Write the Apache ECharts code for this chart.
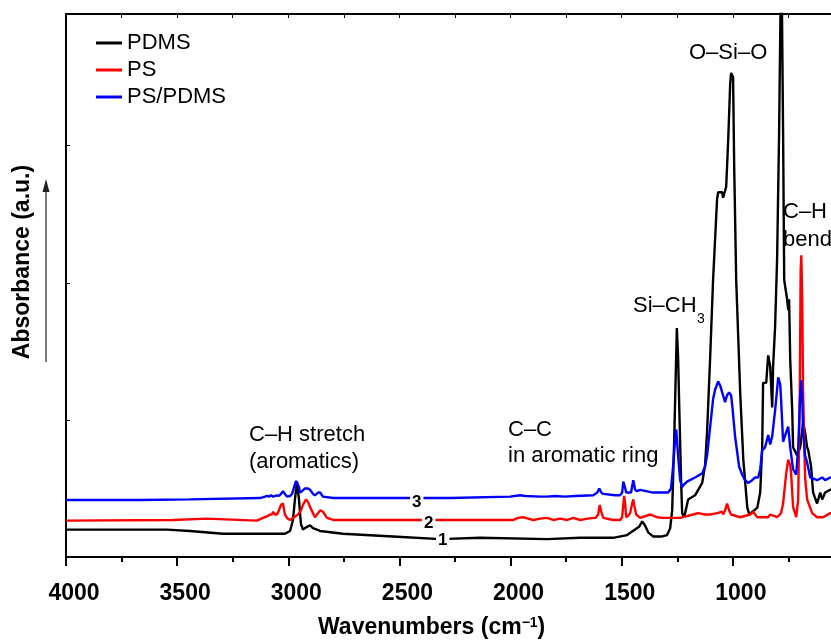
<!DOCTYPE html>
<html>
<head>
<meta charset="utf-8">
<script src="https://cdn.jsdelivr.net/npm/echarts@6/dist/echarts.min.js"></script>
<style>
  html, body { margin: 0; padding: 0; background: #fff; }
  #chart { width: 831px; height: 641px; }
</style>
</head>
<body>
<div id="chart"></div>
<script>
// FTIR spectra, [wavenumber (cm-1), absorbance (a.u.)]
const pdms = [[4000,0.20],[3546,0.20],[3442,0.19],[3294,0.17],[3015,0.17],[2992,0.19],[2979,0.27],[2970,0.42],[2961,0.55],[2952,0.42],[2943,0.24],[2934,0.20],[2916,0.22],[2902,0.23],[2889,0.21],[2857,0.19],[2754,0.17],[2529,0.15],[2317,0.13],[2137,0.14],[1836,0.13],[1687,0.14],[1539,0.14],[1476,0.16],[1440,0.20],[1422,0.22],[1408,0.26],[1395,0.23],[1381,0.18],[1359,0.15],[1318,0.15],[1296,0.16],[1282,0.21],[1273,0.34],[1264,0.85],[1252,1.67],[1246,1.44],[1242,1.15],[1233,0.56],[1228,0.32],[1219,0.29],[1201,0.42],[1170,0.45],[1138,0.54],[1125,0.67],[1116,0.91],[1102,1.46],[1089,2.02],[1071,2.61],[1066,2.66],[1048,2.66],[1044,2.62],[1030,2.70],[1021,3.04],[1012,3.45],[1008,3.53],[999,3.50],[994,2.85],[985,2.02],[967,1.20],[953,0.71],[935,0.36],[926,0.31],[913,0.33],[904,0.34],[890,0.36],[877,0.47],[868,0.80],[864,1.27],[850,1.27],[841,1.47],[832,1.39],[823,1.09],[819,1.39],[810,1.68],[801,2.17],[792,3.09],[782,4.5],[774,3.09],[769,2.02],[765,2.02],[756,1.88],[751,1.80],[747,1.88],[745,1.71],[742,1.44],[733,1.07],[729,0.80],[711,0.74],[697,0.80],[684,0.98],[675,0.91],[666,0.80],[661,0.78],[648,0.66],[639,0.47],[621,0.39],[607,0.47],[598,0.42],[585,0.47],[562,0.49],[550,0.49]];

const ps = [[4000,0.265],[3519,0.27],[3366,0.28],[3141,0.265],[3114,0.285],[3091,0.30],[3082,0.31],[3073,0.31],[3069,0.33],[3060,0.31],[3051,0.31],[3042,0.34],[3033,0.38],[3024,0.39],[3015,0.31],[3006,0.285],[2992,0.27],[2979,0.285],[2956,0.31],[2943,0.34],[2934,0.38],[2920,0.42],[2911,0.40],[2902,0.365],[2889,0.32],[2880,0.29],[2866,0.32],[2857,0.34],[2844,0.33],[2826,0.285],[2798,0.27],[2529,0.27],[1988,0.27],[1966,0.285],[1943,0.29],[1921,0.28],[1898,0.27],[1867,0.28],[1836,0.285],[1808,0.27],[1777,0.28],[1745,0.27],[1718,0.285],[1687,0.27],[1655,0.28],[1619,0.285],[1606,0.31],[1599,0.38],[1592,0.33],[1583,0.285],[1539,0.27],[1507,0.27],[1498,0.29],[1493,0.38],[1489,0.445],[1484,0.38],[1480,0.29],[1471,0.30],[1462,0.32],[1453,0.39],[1448,0.42],[1444,0.38],[1435,0.31],[1417,0.285],[1372,0.31],[1341,0.29],[1314,0.285],[1237,0.285],[1179,0.31],[1156,0.32],[1125,0.31],[1102,0.31],[1071,0.32],[1048,0.33],[1044,0.31],[1035,0.34],[1026,0.39],[1017,0.34],[1008,0.31],[967,0.29],[922,0.31],[908,0.33],[900,0.31],[890,0.29],[841,0.29],[832,0.31],[801,0.29],[783,0.32],[774,0.39],[760,0.61],[751,0.71],[742,0.67],[738,0.61],[729,0.365],[715,0.29],[706,0.42],[699,1.20],[695,2.09],[692,2.20],[688,1.88],[684,1.20],[675,0.58],[666,0.42],[643,0.32],[621,0.29],[594,0.29],[562,0.32],[550,0.32]];

const psPdms = [[4000,0.416],[3667,0.416],[3442,0.42],[3127,0.43],[3105,0.44],[3096,0.445],[3087,0.44],[3078,0.45],[3069,0.44],[3051,0.45],[3042,0.445],[3033,0.46],[3024,0.48],[3015,0.46],[3006,0.44],[2992,0.445],[2983,0.46],[2974,0.51],[2965,0.555],[2961,0.56],[2952,0.51],[2947,0.47],[2938,0.48],[2925,0.50],[2911,0.50],[2902,0.49],[2889,0.46],[2880,0.45],[2866,0.47],[2857,0.47],[2844,0.44],[2798,0.43],[2529,0.43],[2272,0.43],[2002,0.44],[1957,0.45],[1934,0.445],[1867,0.44],[1836,0.44],[1800,0.445],[1755,0.44],[1710,0.445],[1628,0.45],[1610,0.47],[1601,0.50],[1592,0.47],[1583,0.46],[1530,0.45],[1507,0.45],[1498,0.47],[1493,0.55],[1489,0.56],[1484,0.50],[1480,0.47],[1471,0.47],[1458,0.47],[1448,0.56],[1444,0.53],[1440,0.49],[1431,0.48],[1417,0.49],[1359,0.47],[1291,0.47],[1278,0.50],[1269,0.66],[1260,0.85],[1255,0.93],[1251,0.85],[1246,0.73],[1237,0.56],[1228,0.51],[1219,0.53],[1206,0.55],[1170,0.58],[1138,0.61],[1125,0.66],[1116,0.74],[1102,0.95],[1089,1.15],[1080,1.22],[1066,1.28],[1057,1.25],[1048,1.20],[1035,1.13],[1026,1.18],[1017,1.20],[1008,1.18],[1003,1.11],[990,0.88],[972,0.66],[958,0.60],[945,0.56],[931,0.54],[913,0.56],[900,0.58],[886,0.58],[877,0.64],[868,0.78],[855,0.80],[841,0.89],[832,0.82],[823,0.88],[810,1.07],[801,1.22],[796,1.31],[787,1.26],[783,1.15],[774,0.84],[760,0.91],[751,0.95],[742,0.80],[729,0.64],[715,0.60],[706,0.80],[697,1.18],[692,1.29],[688,1.18],[684,0.91],[675,0.74],[666,0.69],[652,0.58],[621,0.56],[598,0.58],[585,0.56],[562,0.58],[550,0.58]];

const seriesNames = ['PDMS', 'PS', 'PS/PDMS'];
const seriesColors = ['#000000', '#ff0000', '#0000ff'];
const xTicks = { min: 500, max: 4000, step: 500 };

const FONT = '"Liberation Sans", Arial, sans-serif';

var dom = document.getElementById('chart');
var chart = echarts.init(dom, null, { renderer: 'canvas' });

function lineSeries(name, data, color) {
    return {
        name: name,
        type: 'line',
        data: data,
        showSymbol: false,
        symbol: 'none',
        clip: true,
        lineStyle: { color: color, width: 2.4 },
        itemStyle: { color: color },
        animation: false
    };
}

function label(text, x, y, size, bold, extra) {
    return Object.assign({
        type: 'text',
        x: x,
        y: y,
        z: 100,
        style: {
            text: text,
            font: (bold ? 'bold ' : '') + size + 'px ' + FONT,
            fill: '#000'
        }
    }, extra || {});
}

var option = {
    animation: false,
    backgroundColor: '#fff',
    // the plot runs on past the right edge of the picture, like the cropped original
    grid: { left: 66, right: -13, top: 14, bottom: 84, outerBoundsMode: 'none', containLabel: false },
    legend: {
        orient: 'vertical',
        left: 91,
        top: 27,
        itemGap: 5,
        itemWidth: 26,
        itemHeight: 3,
        icon: 'rect',
        data: seriesNames,
        textStyle: { fontFamily: FONT, fontSize: 22, color: '#000', padding: [0, 0, 0, 0] }
    },
    xAxis: [
        {
            type: 'value',
            position: 'bottom',
            inverse: true,
            min: xTicks.min,
            max: xTicks.max,
            interval: xTicks.step,
            axisLine: { show: true, onZero: false, lineStyle: { color: '#000', width: 2 } },
            axisTick: { show: true, inside: false, length: 9, lineStyle: { color: '#000', width: 2 } },
            minorTick: { show: true, splitNumber: 2, length: 5, lineStyle: { color: '#000', width: 2 } },
            axisLabel: {
                show: true, margin: 25, color: '#000',
                fontFamily: FONT, fontSize: 23, fontWeight: 'bold',
                padding: [0, 0, 0, 16],
                formatter: function (v) { return v === xTicks.min ? '' : String(v); }
            },
            splitLine: { show: false }
        },
        {
            type: 'value',
            position: 'top',
            inverse: true,
            min: xTicks.min,
            max: xTicks.max,
            interval: xTicks.step,
            axisLine: { show: true, onZero: false, lineStyle: { color: '#000', width: 2 } },
            axisTick: { show: true, inside: true, length: 4, lineStyle: { color: '#000', width: 1 } },
            minorTick: { show: true, splitNumber: 2, length: 4, lineStyle: { color: '#000', width: 1 } },
            axisLabel: { show: false },
            splitLine: { show: false }
        }
    ],
    yAxis: {
        type: 'value',
        min: 0,
        max: 3.96,
        interval: 1,
        axisLine: { show: true, onZero: false, lineStyle: { color: '#000', width: 2 } },
        axisTick: { show: true, inside: true, length: 4, lineStyle: { color: '#000', width: 1 } },
        axisLabel: { show: false },
        splitLine: { show: false }
    },
    series: [
        lineSeries(seriesNames[0], pdms, seriesColors[0]),
        lineSeries(seriesNames[1], ps, seriesColors[1]),
        lineSeries(seriesNames[2], psPdms, seriesColors[2])
    ],
    graphic: [
        // axis titles
        {
            type: 'text', x: 318, y: 616, z: 100,
            style: {
                text: '{a|Wavenumbers (cm}{s|−1}{a|)}',
                rich: {
                    a: { font: 'bold 23px ' + FONT, fill: '#000' },
                    s: { font: 'bold 14px ' + FONT, fill: '#000', verticalAlign: 'top', padding: [0, 0, 10, 0] }
                }
            }
        },
        label('Absorbance (a.u.)', 23, 262, 23, true, {
            rotation: Math.PI / 2,
            style: {
                text: 'Absorbance (a.u.)', font: 'bold 23px ' + FONT, fill: '#000',
                align: 'center', verticalAlign: 'middle'
            }
        }),
        // arrow beside the y title
        {
            type: 'line', z: 100,
            shape: { x1: 46, y1: 362, x2: 46, y2: 190 },
            style: { stroke: '#333', lineWidth: 1.3 }
        },
        {
            type: 'polygon', z: 100,
            shape: { points: [[46, 179], [42.5, 192], [49.5, 192]] },
            style: { fill: '#222' }
        },
        // band annotations
        label('C–H stretch', 249, 424, 22, false),
        label('(aromatics)', 249, 451, 22, false),
        label('C–C', 508, 419, 22, false),
        label('in aromatic ring', 508, 445, 22, false),
        label('Si–CH', 633, 295, 22, false),
        label('3', 697, 312, 14, false),
        label('O–Si–O', 689, 42, 22, false),
        label('C–H', 783, 201, 22, false),
        label('bend', 783, 229, 22, false),
        // curve numbers
        {
            type: 'text', x: 410, y: 494, z: 100,
            style: { text: '3', font: 'bold 17px ' + FONT, fill: '#000', backgroundColor: '#fff', padding: [0, 2] }
        },
        {
            type: 'text', x: 422, y: 515, z: 100,
            style: { text: '2', font: 'bold 17px ' + FONT, fill: '#000', backgroundColor: '#fff', padding: [0, 2] }
        },
        {
            type: 'text', x: 436, y: 532, z: 100,
            style: { text: '1', font: 'bold 17px ' + FONT, fill: '#000', backgroundColor: '#fff', padding: [0, 2] }
        }
    ]
};

chart.setOption(option);
</script>
</body>
</html>
